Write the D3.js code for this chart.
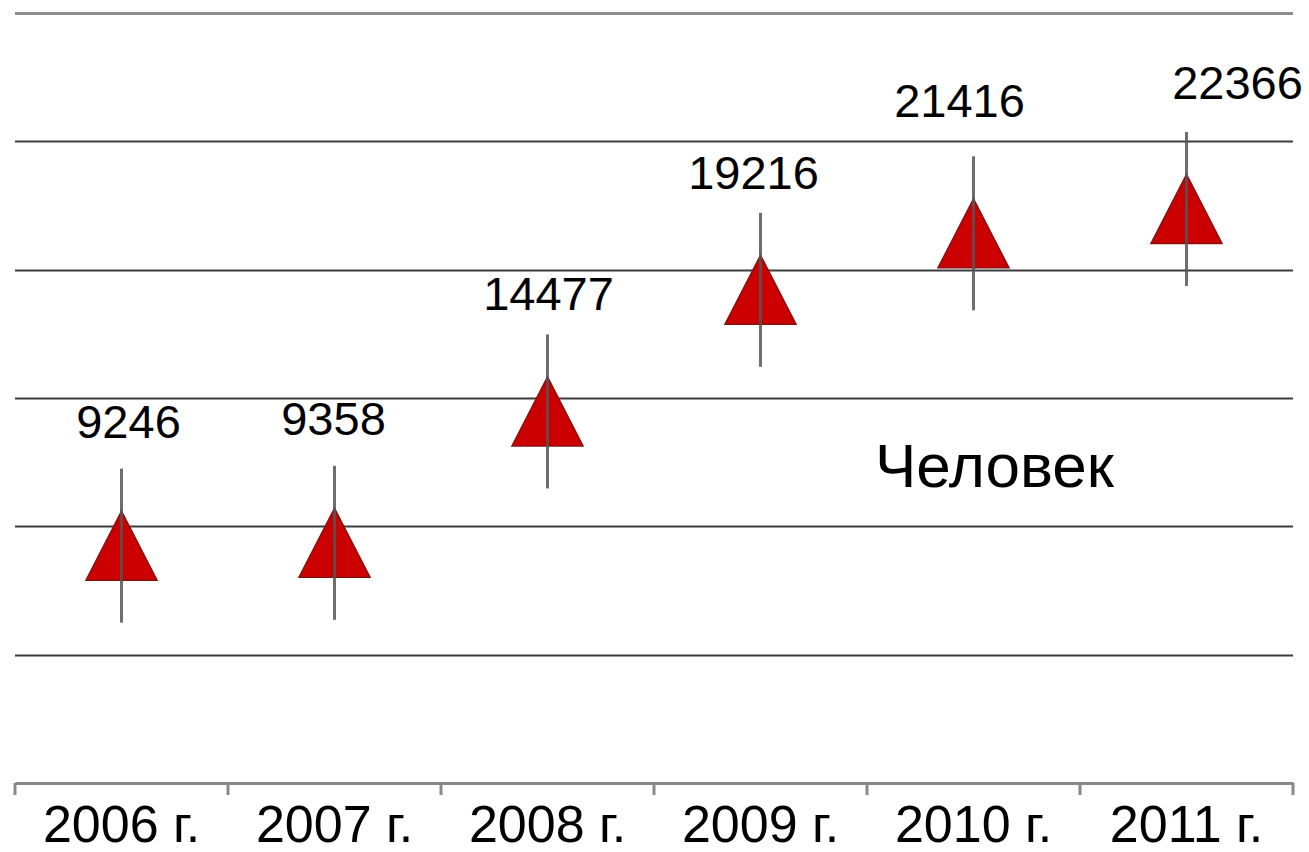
<!DOCTYPE html>
<html><head><meta charset="utf-8">
<script src="https://cdn.jsdelivr.net/npm/d3@7"></script>
<style>body{margin:0;background:#fff}svg{display:block}text{font-family:Arial,"Liberation Sans",sans-serif}</style>
</head><body>
<script>
const categories = ["2006 г.","2007 г.","2008 г.","2009 г.","2010 г.","2011 г."];
const values = [9246, 9358, 14477, 19216, 21416, 22366];
const errors = [3000, 3000, 3000, 3000, 3000, 3000];
const yTicks = [5000, 10000, 15000, 20000, 25000, 30000];
const unitLabel = "Человек";

// layout: manual nudges of the value labels (pixels)
const labelDx = [7, -1, 1, -7, -14, 51];
const labelDy = [0, 0, 7, 7, -8, -2];

const W = 1309, H = 852;
const svg = d3.select("body").append("svg").attr("width", W).attr("height", H);
const x = d3.scaleBand().domain(categories).range([15, 1293]).padding(0);
const y = d3.scaleLinear().domain([0, 30000]).range([783, 13]);

// gridlines
svg.append("g").selectAll("line").data(yTicks).join("line")
  .attr("x1", 15).attr("x2", 1293)
  .attr("y1", d => Math.round(y(d)) + 0.5).attr("y2", d => Math.round(y(d)) + 0.5)
  .attr("stroke", d => d === 30000 ? "#8c8c8c" : "#3c3c3c")
  .attr("stroke-width", d => d === 30000 ? 3 : 2);

// x axis
const xAxis = svg.append("g").attr("transform", `translate(0,${y(0)})`)
  .call(d3.axisBottom(x).tickSize(0).tickPadding(22));
xAxis.select(".domain").attr("stroke", "#888").attr("stroke-width", 3);
xAxis.selectAll("text").attr("font-size", 52).attr("fill", "#000")
  .attr("font-family", "Arial, 'Liberation Sans', sans-serif");
const boundaries = categories.map(c => x(c)).concat([x.range()[1]]);
svg.append("g").selectAll("line").data(boundaries).join("line")
  .attr("x1", d => d).attr("x2", d => d)
  .attr("y1", y(0)).attr("y2", y(0) + 12)
  .attr("stroke", "#888").attr("stroke-width", 3);

const cx = d => x(d) + x.bandwidth() / 2;
const data = categories.map((c, i) => ({c, v: values[i], e: errors[i], i}));

// triangles
const tw = 71, th = 69;
svg.append("g").selectAll("path").data(data).join("path")
  .attr("d", d => {
    const X = cx(d.c), Y = y(d.v);
    return `M${X},${Y - th/2} L${X + tw/2},${Y + th/2} L${X - tw/2},${Y + th/2} Z`;
  })
  .attr("fill", "#cc0000").attr("stroke", "#8a1010").attr("stroke-width", 1.5);

// error bars
svg.append("g").selectAll("line").data(data).join("line")
  .attr("x1", d => cx(d.c)).attr("x2", d => cx(d.c))
  .attr("y1", d => y(d.v + d.e)).attr("y2", d => y(d.v - d.e))
  .attr("stroke", "#555").attr("stroke-width", 3).attr("stroke-opacity", 0.85);

// value labels
svg.append("g").selectAll("text").data(data).join("text")
  .attr("x", d => cx(d.c) + labelDx[d.i]).attr("y", d => y(d.v + d.e) - 31 + labelDy[d.i])
  .attr("text-anchor", "middle").attr("font-size", 47).attr("fill", "#000")
  .text(d => d.v);

svg.append("text").attr("x", 875).attr("y", 487).attr("font-size", 62).attr("fill", "#000")
  .text(unitLabel);
</script>
</body></html>
